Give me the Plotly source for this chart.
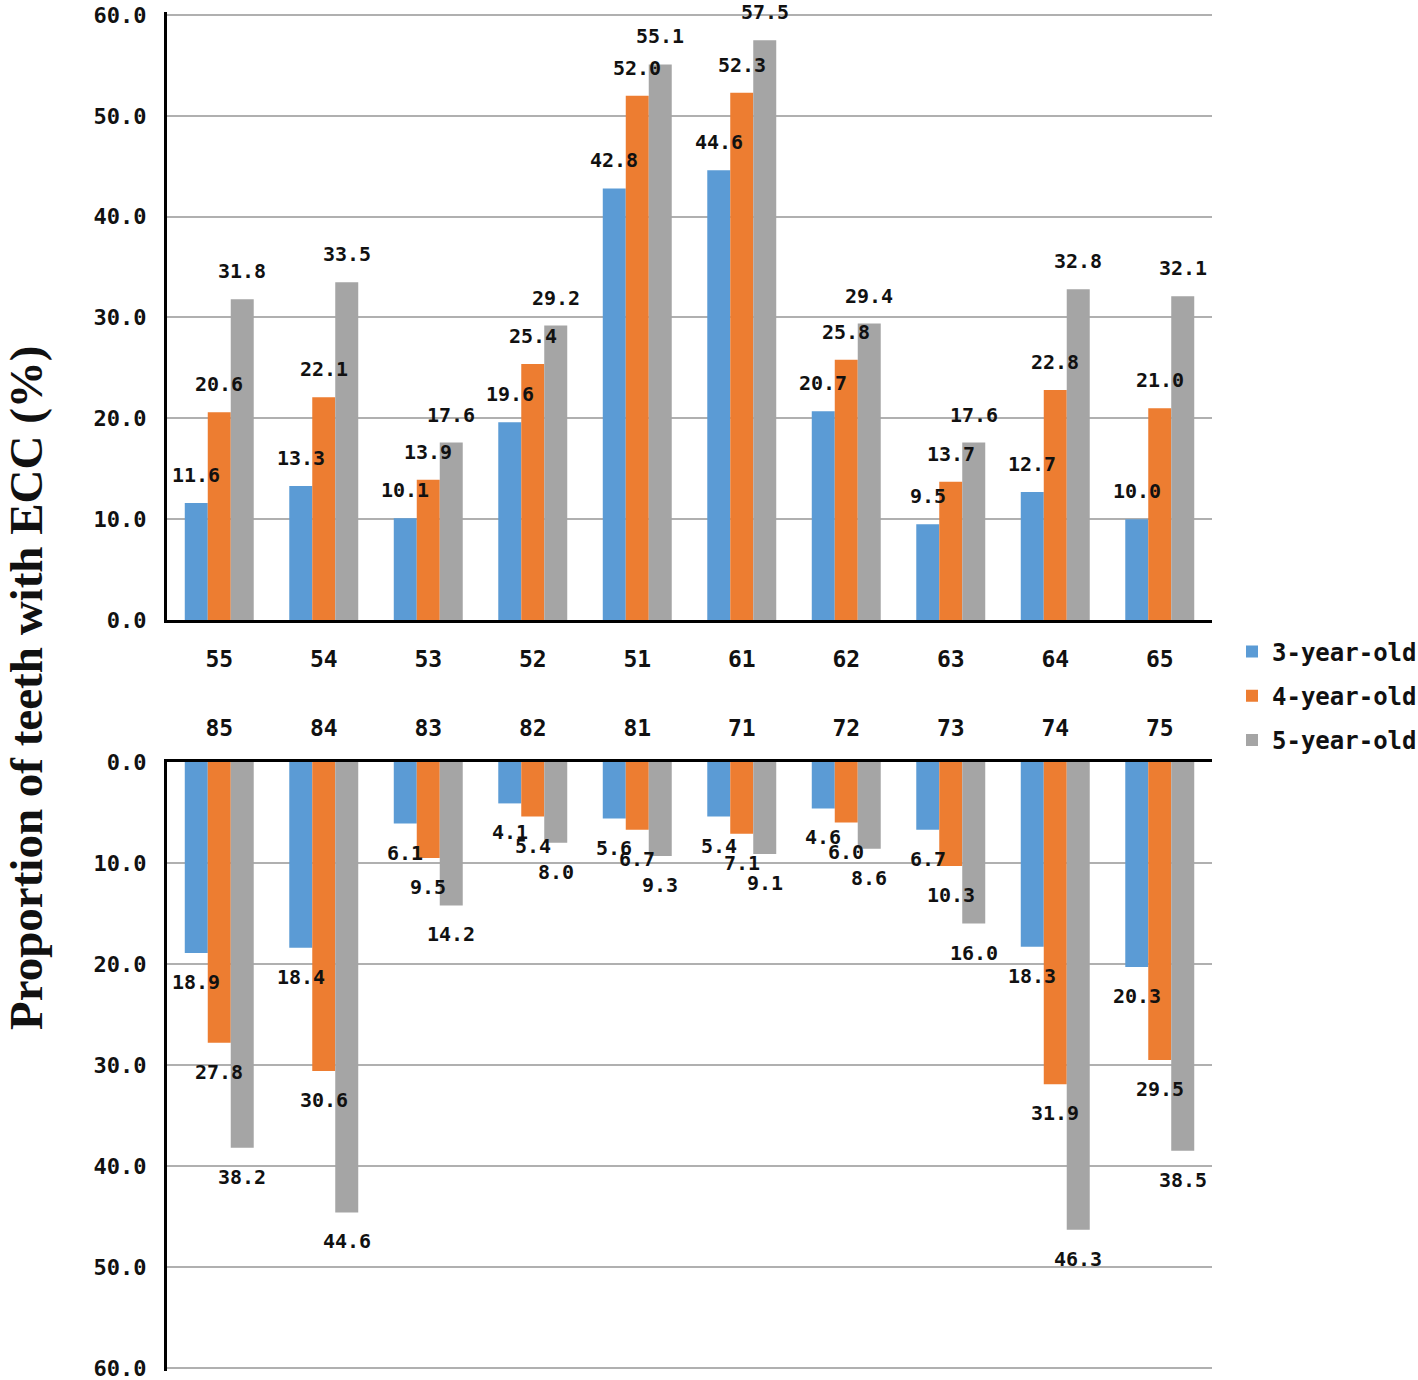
import plotly.graph_objects as go

W, H = 1418, 1380


def px(x):
    return x / W


def py(y):
    return 1 - y / H


upper_teeth = ["55", "54", "53", "52", "51", "61", "62", "63", "64", "65"]
lower_teeth = ["85", "84", "83", "82", "81", "71", "72", "73", "74", "75"]
series_names = ["3-year-old", "4-year-old", "5-year-old"]

upper_3 = [11.6, 13.3, 10.1, 19.6, 42.8, 44.6, 20.7, 9.5, 12.7, 10.0]
upper_4 = [20.6, 22.1, 13.9, 25.4, 52.0, 52.3, 25.8, 13.7, 22.8, 21.0]
upper_5 = [31.8, 33.5, 17.6, 29.2, 55.1, 57.5, 29.4, 17.6, 32.8, 32.1]

lower_3 = [18.9, 18.4, 6.1, 4.1, 5.6, 5.4, 4.6, 6.7, 18.3, 20.3]
lower_4 = [27.8, 30.6, 9.5, 5.4, 6.7, 7.1, 6.0, 10.3, 31.9, 29.5]
lower_5 = [38.2, 44.6, 14.2, 8.0, 9.3, 9.1, 8.6, 16.0, 46.3, 38.5]

y_ticks = [0, 10, 20, 30, 40, 50, 60]

colors = ["#5B9BD5", "#ED7D31", "#A5A5A5"]

# layout in screen pixels
x_left, x_right = 167, 1212
top_y0, top_y60 = 620, 15
bot_y0, bot_y60 = 762, 1368
bargap = 0.34
YMAX = 60.3  # slightly beyond 60 so the 60 gridline is drawn
top_scale = (top_y0 - top_y60) / 60.0
bot_scale = (bot_y60 - bot_y0) / 60.0
top_edge = top_y60 - (YMAX - 60) * top_scale
bot_edge = bot_y60 + (YMAX - 60) * bot_scale

MONO = "DejaVu Sans Mono"
SERIF = "Liberation Serif"

fig = go.Figure()
upper = [upper_3, upper_4, upper_5]
lower = [lower_3, lower_4, lower_5]
for i, name in enumerate(series_names):
    fig.add_trace(go.Bar(x=upper_teeth, y=upper[i], name=name, marker_color=colors[i],
                         marker_line_width=0, xaxis="x", yaxis="y",
                         legendgroup=name, showlegend=True))
for i, name in enumerate(series_names):
    fig.add_trace(go.Bar(x=lower_teeth, y=lower[i], name=name, marker_color=colors[i],
                         marker_line_width=0, xaxis="x2", yaxis="y2",
                         legendgroup=name, showlegend=False))

cat_w = (x_right - x_left) / len(upper_teeth)
bar_w = cat_w * (1 - bargap) / 3
lab_font = dict(family=MONO, size=20, color="#111", weight="bold")
ann = []
for i in range(3):
    dx = (i - 1) * bar_w
    for j, v in enumerate(upper[i]):
        ann.append(dict(x=j, y=v, xref="x", yref="y", text=f"{v:.1f}", showarrow=False,
                        xshift=dx, yshift=28, font=lab_font))
    for j, v in enumerate(lower[i]):
        ann.append(dict(x=j, y=v, xref="x2", yref="y2", text=f"{v:.1f}", showarrow=False,
                        xshift=dx, yshift=-29, font=lab_font))

ann.append(dict(x=px(26), y=py(688), xref="paper", yref="paper",
                xanchor="center", yanchor="middle",
                text="Proportion of teeth with ECC (%)", textangle=-90, showarrow=False,
                font=dict(family=SERIF, size=47, color="#111", weight="bold")))

tick_font = dict(family=MONO, size=22, color="#111", weight="bold")
cat_font = dict(family=MONO, size=23, color="#111", weight="bold")

yaxis_common = dict(tickvals=y_ticks, tickformat=".1f", tickfont=tick_font,
                    showgrid=True, gridcolor="#B0B0B0", gridwidth=1.5, zeroline=False,
                    showline=True, linecolor="#000", linewidth=3, ticks="",
                    ticklabelstandoff=13, automargin=False, ticklabeloverflow="allow")

xaxis_common = dict(type="category", range=[-0.5, 9.5], showline=True, linecolor="#000",
                    linewidth=3, ticks="", tickfont=cat_font,
                    showgrid=False, automargin=False)

fig.update_layout(
    width=W, height=H,
    margin=dict(l=0, r=0, t=0, b=0, autoexpand=False),
    paper_bgcolor="white", plot_bgcolor="white",
    barmode="group", bargap=bargap, bargroupgap=0,
    showlegend=True,
    legend=dict(x=px(1232), y=py(696), xanchor="left", yanchor="middle",
                font=dict(family=MONO, size=24, color="#111", weight="bold"),
                traceorder="grouped", tracegroupgap=10, itemwidth=30,
                bgcolor="rgba(0,0,0,0)"),
    xaxis=dict(domain=[px(x_left), px(x_right)], anchor="y",
               categoryorder="array", categoryarray=upper_teeth,
               ticklabelstandoff=16, **xaxis_common),
    yaxis=dict(domain=[py(top_y0), py(top_edge)], anchor="x", range=[0, YMAX],
               **yaxis_common),
    xaxis2=dict(domain=[px(x_left), px(x_right)], anchor="y2", side="top",
                categoryorder="array", categoryarray=lower_teeth,
                ticklabelstandoff=14, **xaxis_common),
    yaxis2=dict(domain=[py(bot_edge), py(bot_y0)], anchor="x2", range=[YMAX, 0],
                **yaxis_common),
    annotations=ann,
)

fig.write_html("out.html", config={"displayModeBar": False},
               post_script="document.body.style.margin='0px';")
